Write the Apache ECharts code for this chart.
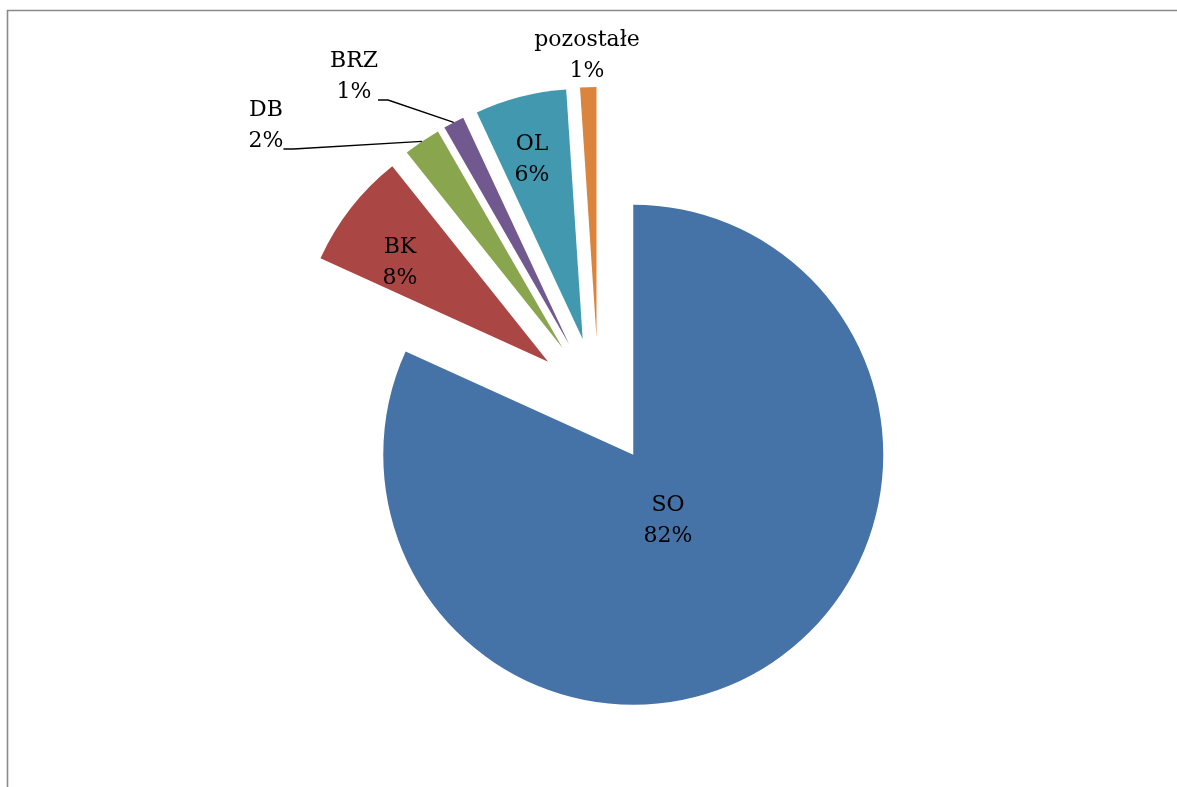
<!DOCTYPE html>
<html>
<head>
<meta charset="utf-8">
<script src="https://cdn.jsdelivr.net/npm/echarts@6/dist/echarts.min.js"></script>
<style>
  html, body { margin: 0; padding: 0; background: #ffffff; }
  #chart { width: 1177px; height: 787px; }
</style>
</head>
<body>
<div id="chart"></div>
<script>
// ---- data ----
const categories = ['SO', 'BK', 'DB', 'BRZ', 'OL', 'pozostałe'];
const values = [81.7, 7.5, 2.4, 1.35, 5.9, 1.05];

// ---- styles / layout (kept apart from data) ----
const colors = ['#4572A7', '#AA4643', '#89A54E', '#71588F', '#4198AF', '#DB843D'];
const labelInside = [true, true, false, false, true, false];
const showLine = [false, false, true, true, false, false];
// text-block centres of the labels
const labelPos = [[668, 521], [400, 263], [266, 126], [354, 77], [532, 160], [587, 56]];
const LINE_H = 31;
const PAD_H = 46; // invisible spacer line so the leader line leaves at the last text line
const PIE_CENTER = [598.6, 401];
const PIE_R = 250;
const EXPLODE = 64;

const chart = echarts.init(document.getElementById('chart'), null, { renderer: 'canvas' });

// exploded slices (no labels; all items selected => offset outwards)
const sliceItems = categories.map((name, i) => ({
  name: name,
  value: values[i],
  selected: true,
  itemStyle: { color: colors[i] }
}));

// label carrier: same data, invisible sectors reaching the exploded outer rim
const labelItems = categories.map((name, i) => ({
  name: name,
  value: values[i],
  label: { position: labelInside[i] ? 'inside' : 'outside' },
  labelLine: { show: showLine[i] }
}));

chart.setOption({
  animation: false,
  backgroundColor: '#ffffff',
  graphic: [{
    type: 'rect',
    shape: { x: 7.5, y: 10.5, width: 1200, height: 800 },
    style: { fill: 'none', stroke: '#8a8a8a', lineWidth: 1.6 },
    silent: true
  }],
  series: [{
    type: 'pie',
    name: 'slices',
    center: PIE_CENTER,
    radius: [0, PIE_R],
    startAngle: 90,
    clockwise: true,
    selectedMode: 'multiple',
    selectedOffset: EXPLODE,
    silent: true,
    itemStyle: { borderWidth: 0 },
    emphasis: { disabled: true },
    label: { show: false },
    labelLine: { show: false },
    data: sliceItems,
    z: 2
  }, {
    type: 'pie',
    name: 'labels',
    center: PIE_CENTER,
    radius: [0, PIE_R + EXPLODE],
    startAngle: 90,
    clockwise: true,
    selectedMode: false,
    silent: true,
    avoidLabelOverlap: false,
    itemStyle: { color: 'rgba(0,0,0,0)', borderWidth: 0 },
    emphasis: { disabled: true },
    label: {
      show: true,
      color: '#000000',
      fontFamily: 'DejaVu Serif',
      fontSize: 22,
      lineHeight: LINE_H,
      align: 'center',
      formatter: p => p.name + '\n' + Math.round(p.percent) + '%' +
        (showLine[p.dataIndex] ? '\n{pad| }' : ''),
      rich: {
        pad: { lineHeight: PAD_H, fontSize: 10 }
      }
    },
    labelLine: {
      length: 10,
      length2: 10,
      minTurnAngle: 90,
      lineStyle: { color: '#000000', width: 1.4 }
    },
    labelLayout: function (params) {
      const i = params.dataIndex;
      const pos = labelPos[i];
      const shift = showLine[i] ? PAD_H / 2 : 0;
      return { x: pos[0], y: pos[1] + shift, align: 'center', verticalAlign: 'middle' };
    },
    data: labelItems,
    z: 3
  }]
});
</script>
</body>
</html>
